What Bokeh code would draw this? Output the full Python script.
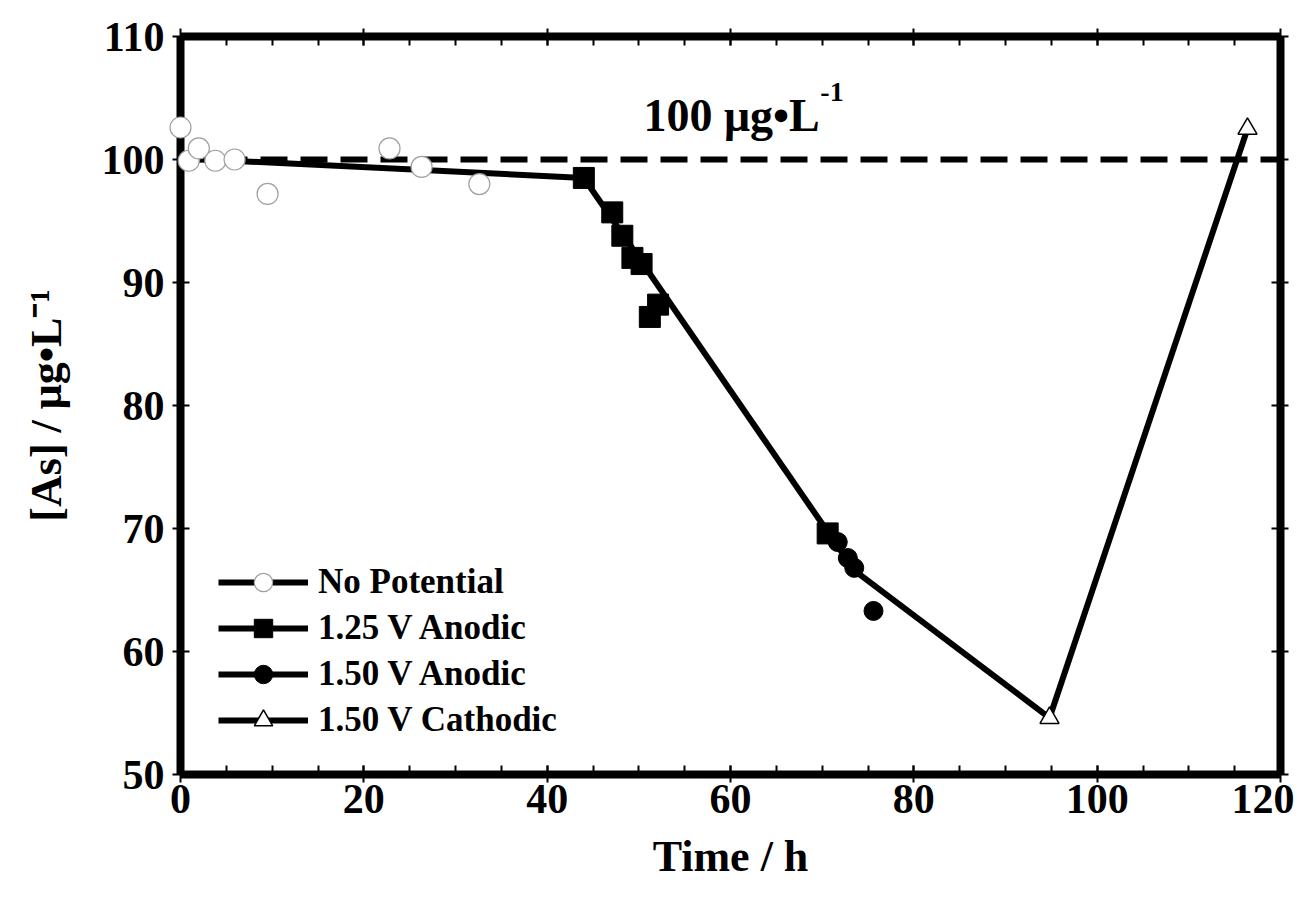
from bokeh.plotting import figure
from bokeh.models import (LinearAxis, Label, Legend, LegendItem, CustomJSTickFormatter,
                          Range1d, FixedTicker)
from bokeh.embed import file_html
from bokeh.resources import INLINE

# ---- data ----
np_time = [0.0, 0.9, 2.0, 3.8, 5.9, 9.5, 22.8, 26.3, 32.6]
np_as = [102.6, 99.9, 100.9, 99.9, 100.0, 97.2, 100.9, 99.4, 98.0]

a125_time = [44.0, 47.1, 48.2, 49.3, 50.3, 51.2, 52.1, 70.6]
a125_as = [98.5, 95.7, 93.8, 92.0, 91.5, 87.2, 88.2, 69.6]

a150_time = [71.7, 72.8, 73.5, 75.6]
a150_as = [68.9, 67.6, 66.8, 63.3]

cat_time = [94.8, 116.4]
cat_as = [54.6, 102.5]

# piecewise trend lines
np_fit_time = [0.0, 44.0]
np_fit_as = [100.1, 98.5]
a125_fit_time = [44.0, 73.5]
a125_fit_as = [98.5, 66.6]
a150_fit_time = [73.5, 94.8]
a150_fit_as = [66.6, 54.6]
cat_fit_time = [94.8, 116.4]
cat_fit_as = [54.6, 102.5]

# target concentration
target_time = [0, 120]
target_as = [100, 100]

x_ticks = [0, 20, 40, 60, 80, 100, 120]
y_ticks = [50, 60, 70, 80, 90, 100, 110]

FONT = "Liberation Serif"

p = figure(frame_width=1100, frame_height=738, output_backend="svg", toolbar_location=None,
           x_range=Range1d(0, 120), y_range=Range1d(50, 110),
           min_border_left=180, min_border_top=36, min_border_right=14, min_border_bottom=0,
           x_axis_label="Time / h", y_axis_label="[As] / \u03bcg\u2022L\u207b\u00b9")
p.grid.visible = False
p.outline_line_color = None
p.background_fill_color = "white"
p.border_fill_color = "white"

def style_axis(ax, minor):
    ax.axis_line_width = 8
    ax.axis_line_color = "black"
    ax.major_tick_line_width = 2
    ax.major_tick_in = 9
    ax.major_tick_out = 8
    ax.minor_tick_line_width = 2
    if minor:
        ax.minor_tick_in = 9
        ax.minor_tick_out = 0
    else:
        ax.minor_tick_line_color = None
    ax.major_label_text_font = FONT
    ax.major_label_text_font_style = "bold"
    ax.major_label_text_font_size = "42px"
    ax.major_label_text_color = "black"
    ax.axis_label_text_font = FONT
    ax.axis_label_text_font_style = "bold"
    ax.axis_label_text_font_size = "44px"
    ax.axis_label_text_color = "black"

style_axis(p.xaxis[0], True)
style_axis(p.yaxis[0], False)
p.xaxis[0].ticker = FixedTicker(ticks=x_ticks, minor_ticks=list(range(0, 121, 5)))
p.yaxis[0].ticker = FixedTicker(ticks=y_ticks)
p.xaxis[0].major_label_standoff = 2
p.xaxis[0].axis_label_standoff = 16
p.yaxis[0].major_label_standoff = 8
p.yaxis[0].axis_label_standoff = 28

blank = CustomJSTickFormatter(code="return ''")
top_ax = LinearAxis(formatter=blank, ticker=FixedTicker(ticks=x_ticks, minor_ticks=list(range(0, 121, 5))))
right_ax = LinearAxis(formatter=blank, ticker=FixedTicker(ticks=y_ticks))
for ax, minor in ((top_ax, True), (right_ax, False)):
    style_axis(ax, minor)
    ax.major_label_text_font_size = "1px"
    ax.major_label_standoff = 0
p.add_layout(top_ax, "above")
p.add_layout(right_ax, "right")

# target dashed line
p.line(target_time, target_as, line_color="black", line_width=6, line_dash="27 13")

# trend lines
l_np = p.line(np_fit_time, np_fit_as, line_color="black", line_width=6)
l_125 = p.line(a125_fit_time, a125_fit_as, line_color="black", line_width=6)
l_150 = p.line(a150_fit_time, a150_fit_as, line_color="black", line_width=6)
l_cat = p.line(cat_fit_time, cat_fit_as, line_color="black", line_width=6)

# markers
s_np = p.scatter(np_time, np_as, marker="circle", size=21, fill_color="white",
                 line_color="#a0a0a0", line_width=1.2, level="overlay")
s_125 = p.scatter(a125_time, a125_as, marker="square", size=21, fill_color="black",
                  line_color="black", level="overlay")
s_150 = p.scatter(a150_time, a150_as, marker="circle", size=19, fill_color="black",
                  line_color="black", level="overlay")
s_cat = p.scatter(cat_time, cat_as, marker="triangle", size=19, fill_color="white",
                  line_color="black", line_width=1.5, level="overlay")

legend = Legend(items=[
    LegendItem(label="No Potential", renderers=[l_np, s_np]),
    LegendItem(label="1.25 V Anodic", renderers=[l_125, s_125]),
    LegendItem(label="1.50 V Anodic", renderers=[l_150, s_150]),
    LegendItem(label="1.50 V Cathodic", renderers=[l_cat, s_cat]),
], location=(38, 31))
legend.glyph_width = 90
legend.glyph_height = 46
legend.spacing = 0
legend.padding = 0
legend.margin = 0
legend.label_standoff = 10
legend.label_text_font = FONT
legend.label_text_font_style = "bold"
legend.label_text_font_size = "35px"
legend.label_text_color = "black"
legend.border_line_color = None
legend.background_fill_alpha = 0
p.add_layout(legend, "center")

# annotation
p.add_layout(Label(x=50.5, y=103.6, text="100 \u03bcg\u2022L", text_font=FONT,
                   text_font_style="bold", text_font_size="46px", text_color="black",
                   text_baseline="alphabetic"))
p.add_layout(Label(x=69.8, y=105.5, text="-1", text_font=FONT,
                   text_font_style="bold", text_font_size="28px", text_color="black",
                   text_baseline="alphabetic"))

open("out.html", "w").write(file_html(p, INLINE))
